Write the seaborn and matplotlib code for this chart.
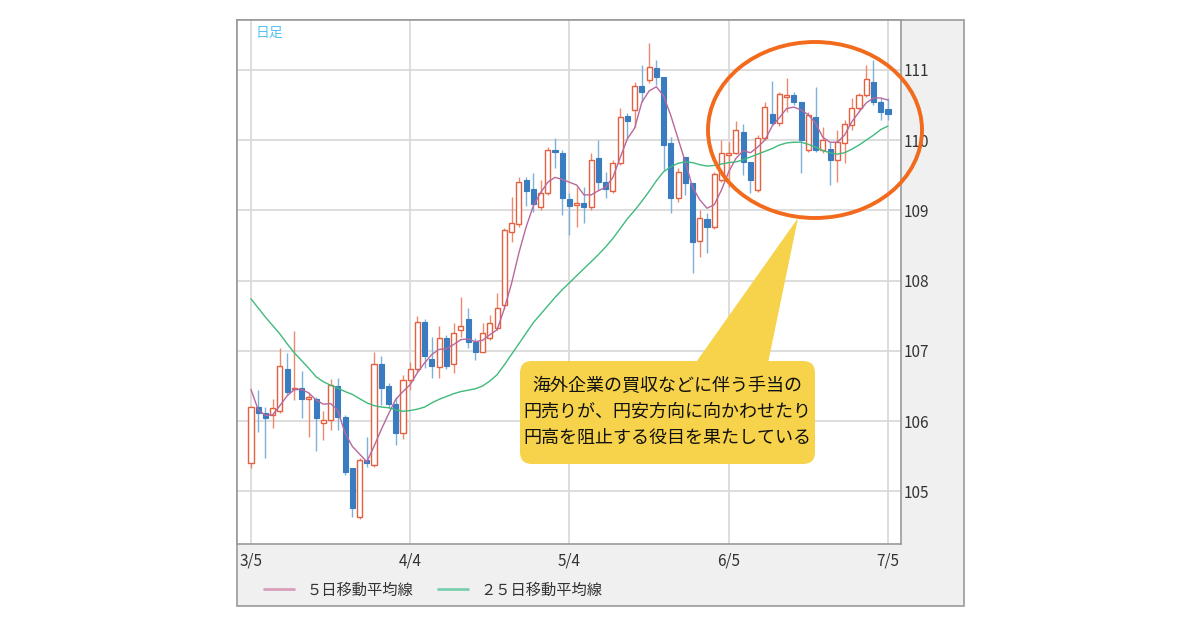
import numpy as np
import pandas as pd
import matplotlib
matplotlib.use("Agg")
import matplotlib.pyplot as plt
import seaborn as sns
from matplotlib.patches import Rectangle, Ellipse, FancyBboxPatch, Polygon

# daily USD/JPY candles, 3/5 - 7/5 (one entry per trading day)
opens = [105.40, 106.20, 106.11, 106.08, 106.15, 106.74, 106.45, 106.47, 106.31, 106.31,
         105.97, 106.01, 106.50, 106.06, 105.33, 104.63, 105.44, 105.37, 106.81, 106.50,
         106.24, 105.83, 106.58, 106.74, 107.41, 106.89, 106.77, 107.18, 106.81, 107.29,
         107.45, 107.12, 106.99, 107.18, 107.32, 107.65, 108.69, 108.80, 109.43, 109.30,
         109.05, 109.25, 109.86, 109.81, 109.16, 109.08, 109.10, 109.05, 109.74, 109.40,
         109.27, 109.67, 110.34, 110.43, 110.77, 110.85, 111.03, 110.90, 109.96, 109.17,
         109.76, 109.39, 108.56, 108.87, 108.76, 109.43, 109.79, 109.81, 110.11, 109.69,
         109.29, 110.03, 110.37, 110.24, 110.62, 110.64, 110.54, 109.86, 110.33, 109.86,
         109.87, 109.72, 109.96, 110.21, 110.46, 110.64, 110.83, 110.54, 110.44]
highs = [106.22, 106.44, 106.20, 106.31, 107.04, 106.97, 107.28, 106.72, 106.40, 106.34,
         106.15, 106.60, 106.62, 106.09, 105.33, 105.47, 105.77, 106.99, 106.92, 106.54,
         106.34, 106.65, 106.84, 107.49, 107.45, 107.19, 107.36, 107.22, 107.39, 107.76,
         107.61, 107.18, 107.39, 107.51, 107.83, 108.75, 109.19, 109.47, 109.47, 109.53,
         109.43, 109.90, 110.03, 109.86, 109.25, 109.33, 109.33, 109.81, 110.00, 109.54,
         109.72, 110.46, 110.38, 110.83, 111.07, 111.38, 111.14, 110.90, 110.04, 109.60,
         109.76, 109.39, 109.00, 108.96, 109.54, 110.00, 109.97, 110.27, 110.23, 109.69,
         110.07, 110.54, 110.84, 110.68, 110.88, 110.68, 110.54, 110.40, 110.75, 110.18,
         109.97, 110.14, 110.28, 110.60, 110.67, 111.07, 111.14, 110.60, 110.60]
lows = [105.33, 105.84, 105.47, 105.90, 106.12, 106.37, 106.30, 106.05, 105.78, 105.58,
        105.73, 105.87, 105.87, 105.23, 104.63, 104.60, 105.34, 105.34, 106.23, 106.18,
        105.66, 105.74, 106.44, 106.70, 106.75, 106.62, 106.62, 106.74, 106.68, 107.19,
        107.04, 106.87, 106.98, 107.15, 107.29, 107.60, 108.55, 108.76, 109.06, 108.97,
        109.00, 109.22, 109.60, 108.93, 108.65, 108.76, 108.82, 109.00, 109.29, 109.17,
        109.24, 109.64, 110.03, 110.19, 110.54, 110.81, 110.78, 109.57, 108.96, 109.12,
        109.22, 108.11, 108.33, 108.39, 108.73, 109.40, 109.33, 109.80, 109.50, 109.25,
        109.26, 110.00, 110.21, 110.20, 110.40, 110.50, 109.53, 109.83, 109.83, 109.81,
        109.36, 109.40, 109.67, 110.14, 110.43, 110.61, 110.50, 110.28, 110.28]
closes = [106.20, 106.11, 106.05, 106.18, 106.78, 106.41, 106.47, 106.31, 106.34, 106.04,
          106.01, 106.51, 106.06, 105.27, 104.76, 105.44, 105.40, 106.81, 106.47, 106.25,
          105.83, 106.58, 106.74, 107.41, 106.92, 106.79, 107.18, 106.79, 107.26, 107.36,
          107.12, 106.99, 107.25, 107.39, 107.61, 108.72, 108.82, 109.40, 109.27, 109.09,
          109.25, 109.86, 109.83, 109.17, 109.06, 109.09, 109.05, 109.72, 109.40, 109.30,
          109.67, 110.33, 110.27, 110.77, 110.68, 111.04, 110.90, 109.93, 109.17, 109.54,
          109.39, 108.55, 108.89, 108.77, 109.52, 109.81, 109.81, 110.14, 109.69, 109.43,
          110.03, 110.47, 110.24, 110.66, 110.63, 110.54, 110.00, 110.36, 109.86, 110.00,
          109.72, 109.97, 110.23, 110.46, 110.64, 110.87, 110.54, 110.40, 110.37]

# moving averages
ma5 = [106.45, 106.16, 106.08, 106.09, 106.22, 106.36, 106.45, 106.45, 106.40, 106.30,
       106.24, 106.25, 106.15, 105.83, 105.64, 105.53, 105.42, 105.64, 105.88, 106.10,
       106.31, 106.42, 106.52, 106.69, 106.83, 106.95, 107.02, 107.03, 107.09, 107.16,
       107.17, 107.13, 107.15, 107.23, 107.30, 107.60, 107.96, 108.39, 108.76, 109.06,
       109.25, 109.40, 109.47, 109.44, 109.40, 109.36, 109.22, 109.22, 109.28, 109.33,
       109.47, 109.75, 110.02, 110.17, 110.54, 110.70, 110.76, 110.63, 110.35, 110.02,
       109.69, 109.33, 109.15, 109.03, 109.08, 109.29, 109.55, 109.74, 109.85, 109.82,
       109.90, 110.00, 110.20, 110.32, 110.45, 110.47, 110.43, 110.36, 110.24, 110.04,
       109.97, 109.97, 110.07, 110.26, 110.40, 110.53, 110.60, 110.60, 110.57]
ma25 = [107.74, 107.61, 107.48, 107.36, 107.24, 107.10, 106.97, 106.86, 106.75, 106.63,
        106.56, 106.51, 106.47, 106.42, 106.38, 106.32, 106.26, 106.22, 106.20, 106.19,
        106.16, 106.14, 106.15, 106.17, 106.20, 106.26, 106.31, 106.35, 106.39, 106.42,
        106.44, 106.46, 106.50, 106.57, 106.66, 106.80, 106.95, 107.10, 107.25, 107.40,
        107.52, 107.64, 107.76, 107.87, 107.97, 108.07, 108.17, 108.27, 108.37, 108.48,
        108.60, 108.74, 108.88, 109.00, 109.13, 109.27, 109.42, 109.55, 109.62, 109.67,
        109.69, 109.68, 109.65, 109.63, 109.64, 109.66, 109.68, 109.69, 109.72, 109.76,
        109.80, 109.84, 109.88, 109.93, 109.96, 109.97, 109.97, 109.94, 109.90, 109.85,
        109.82, 109.80, 109.82, 109.87, 109.93, 110.00, 110.07, 110.15, 110.20]

tick_days = [0, 22, 44, 66, 88]
tick_labels = ["3/5", "4/4", "5/4", "6/5", "7/5"]
y_ticks = [105, 106, 107, 108, 109, 110, 111]
legend_labels = ["５日移動平均線", "２５日移動平均線"]
note = "海外企業の買収などに伴う手当の\n円売りが、円安方向に向かわせたり\n円高を阻止する役目を果たしている"

df = pd.DataFrame({"day": np.arange(len(closes)), "open": opens, "high": highs,
                   "low": lows, "close": closes, "ma5": ma5, "ma25": ma25})
df["up"] = df["close"] >= df["open"]

sns.set_theme(style="white")
plt.rcParams["font.family"] = ["Noto Sans CJK JP", "DejaVu Sans"]

UP_EDGE, UP_WICK = "#e5603f", "#ec8a6e"
DN_FILL, DN_WICK = "#3a7cc0", "#7fb0dc"

fig = plt.figure(figsize=(12, 6.3), dpi=100)
fig.patch.set_facecolor("white")

# grey panel behind the chart
fig.patches.append(Rectangle((2.37, 0.24), 7.27, 5.86, transform=fig.dpi_scale_trans,
                             fc="#f0f0f0", ec="#9a9a9a", lw=1.2, zorder=-1))

ax = fig.add_axes([237 / 1200, 1 - 544 / 630, (901 - 237) / 1200, (544 - 20) / 630])
ax.set_facecolor("white")

up = df[df["up"]]
dn = df[~df["up"]]
ax.vlines(up["day"], up["low"], up["high"], color=UP_WICK, lw=1.0, zorder=2)
ax.vlines(dn["day"], dn["low"], dn["high"], color=DN_WICK, lw=1.0, zorder=2)
ax.bar(up["day"], np.maximum(up["close"] - up["open"], 0.02), bottom=up["open"],
       width=0.7, color="white", edgecolor=UP_EDGE, lw=1.0, zorder=3)
ax.bar(dn["day"], np.maximum(dn["open"] - dn["close"], 0.02), bottom=dn["close"],
       width=0.7, color=DN_FILL, edgecolor=DN_FILL, lw=0.8, zorder=3)

sns.lineplot(data=df, x="day", y="ma5", ax=ax, color="#b8689c", lw=1.0,
             label=legend_labels[0], zorder=4)
sns.lineplot(data=df, x="day", y="ma25", ax=ax, color="#3fba7c", lw=1.0,
             label=legend_labels[1], zorder=4)
handles, labels = ax.get_legend_handles_labels()
ax.get_legend().remove()

ax.set_xlim(-1.93, 89.8)
ax.set_ylim(104.25, 111.71)
ax.set_xticks(tick_days)
ax.set_xticklabels(tick_labels)
ax.set_yticks(y_ticks)
ax.set_xlabel("")
ax.set_ylabel("")
ax.yaxis.tick_right()
ax.tick_params(axis="both", length=0, labelsize=11, labelcolor="#333333")
ax.tick_params(axis="y", pad=2)
ax.tick_params(axis="x", pad=6)
ax.grid(True, color="#dadada", lw=1.3)
ax.set_axisbelow(True)
for s in ax.spines.values():
    s.set_color("#9a9a9a")
    s.set_linewidth(1.2)

ax.text(0.028, 0.988, "日足", transform=ax.transAxes, ha="left", va="top",
        fontsize=10, color="#55c4ec")

leg = fig.legend(handles, labels, loc="center left", bbox_to_anchor=(250 / 1200, 1 - 590 / 630),
                 ncol=2, frameon=False, fontsize=11, handlelength=2.0, columnspacing=1.6,
                 labelcolor="#333333")
for h, c in zip(leg.legend_handles, ["#d79fbb", "#7ccfae"]):
    h.set_color(c)
    h.set_linewidth(2.0)

# orange circle around the recent range
fig.patches.append(Ellipse((8.15, 5.00), 2.14, 1.76, transform=fig.dpi_scale_trans,
                           fill=False, ec="#f26b1d", lw=2.8, zorder=5))

# yellow callout
fig.patches.append(FancyBboxPatch((5.20, 1.66), 2.95, 1.03, transform=fig.dpi_scale_trans,
                                  boxstyle="round,pad=0,rounding_size=0.12",
                                  fc="#f6d34a", ec="none", zorder=5))
fig.patches.append(Polygon([(6.92, 2.62), (7.98, 4.12), (7.67, 2.62)],
                           closed=True, transform=fig.dpi_scale_trans,
                           fc="#f6d34a", ec="none", zorder=5))
fig.text(6.675 / 12, 1 - 412 / 630, note, ha="center", va="center", fontsize=13,
         linespacing=1.55, color="#111111", zorder=6)

fig.savefig("out.png", dpi=100)
